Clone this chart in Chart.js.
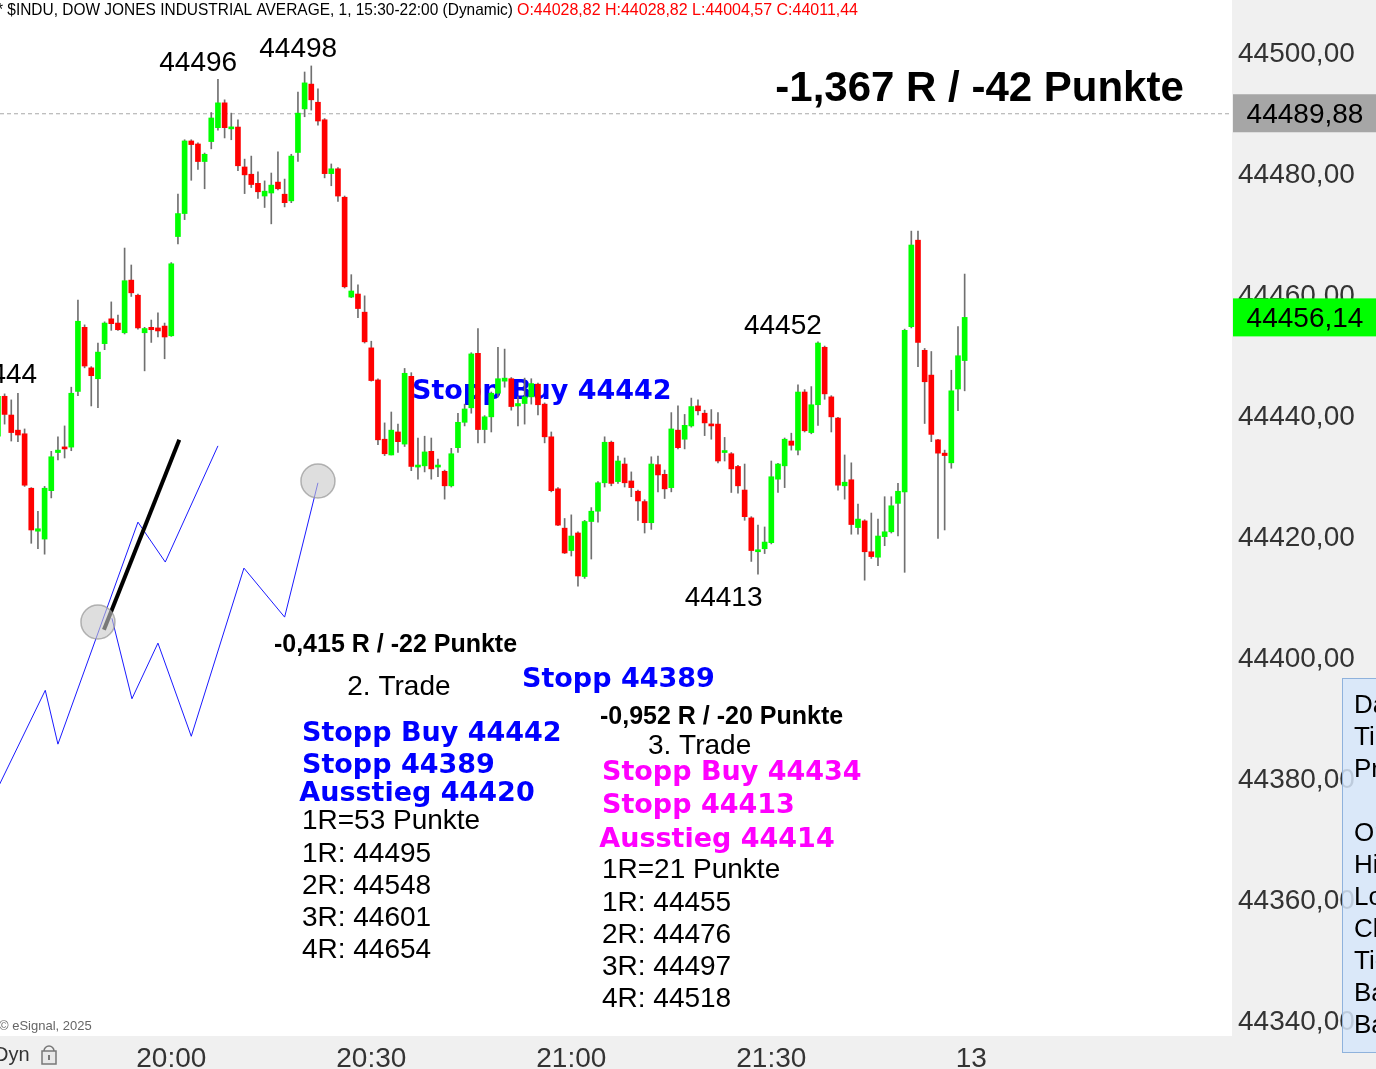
<!DOCTYPE html>
<html>
<head>
<meta charset="utf-8">
<script src="https://cdn.jsdelivr.net/npm/chart.js@4.4.1/dist/chart.umd.min.js"></script>
<style>
  html, body { margin: 0; padding: 0; background: #fff; overflow: hidden; }
  #wrap { width: 1376px; height: 1069px; }
</style>
</head>
<body>
<div id="wrap"><canvas id="chart" width="1376" height="1069"></canvas></div>
<script>
// 1-minute bars, first bar 19:34
const firstBar = "19:34";
const opens = [
  44436.5, 44443.1, 44440.0, 44437.5, 44436.9, 44427.9, 44420.8, 44419.5, 44427.5, 44433.8,
  44434.7, 44434.7, 44443.9, 44454.5, 44447.8, 44446.0, 44451.8, 44455.9, 44455.2, 44453.6,
  44462.3, 44459.8, 44453.6, 44454.5, 44454.4, 44454.7, 44453.1, 44469.5, 44473.3, 44485.3,
  44484.8, 44481.9, 44485.2, 44487.5, 44491.6, 44487.3, 44487.6, 44481.0, 44479.8, 44478.3,
  44476.2, 44476.7, 44478.5, 44476.5, 44475.4, 44483.4, 44490.6, 44494.7, 44491.7, 44488.8,
  44479.9, 44480.7, 44476.0, 44459.5, 44460.0, 44457.0, 44451.1, 44445.8, 44436.0, 44433.4,
  44437.2, 44435.2, 44446.4, 44431.4, 44431.6, 44434.0, 44431.4, 44430.7, 44428.3, 44434.6,
  44438.8, 44441.2, 44450.2, 44437.6, 44439.7, 44443.6, 44445.6, 44446.0, 44441.5, 44441.9,
  44443.0, 44445.1, 44441.8, 44436.4, 44427.8, 44421.3, 44417.6, 44420.5, 44413.3, 44422.4,
  44424.1, 44428.8, 44435.5, 44429.0, 44431.9, 44429.1, 44427.4, 44425.7, 44422.2, 44431.8,
  44430.2, 44428.0, 44437.5, 44436.0, 44438.2, 44441.5, 44440.3, 44438.5, 44438.5, 44433.8,
  44433.6, 44431.5, 44427.6, 44423.0, 44417.4, 44417.9, 44418.9, 44429.4, 44431.6, 44435.7,
  44434.2, 44443.8, 44437.1, 44441.7, 44451.2, 44443.0, 44439.5, 44428.3, 44429.3, 44421.4,
  44422.5, 44417.4, 44416.5, 44419.9, 44420.7, 44425.4, 44427.3, 44454.6, 44468.9, 44450.7,
  44446.6, 44435.9, 44433.7, 44432.1, 44444.3, 44449.0
];
const highs = [
  44443.5, 44443.5, 44442.5, 44443.6, 44437.7, 44428.0, 44424.1, 44428.2, 44434.0, 44436.4,
  44438.2, 44444.6, 44459.0, 44454.9, 44448.0, 44451.9, 44455.4, 44458.7, 44456.5, 44467.6,
  44464.8, 44460.0, 44454.5, 44455.7, 44456.9, 44455.2, 44465.2, 44476.5, 44485.5, 44485.5,
  44485.0, 44483.3, 44490.0, 44495.5, 44492.1, 44489.9, 44488.8, 44482.3, 44482.8, 44480.2,
  44478.7, 44480.0, 44483.5, 44479.0, 44483.1, 44493.4, 44496.7, 44497.7, 44493.9, 44489.0,
  44481.5, 44480.9, 44476.2, 44463.2, 44461.5, 44459.7, 44452.2, 44446.0, 44438.7, 44440.5,
  44438.5, 44447.7, 44447.0, 44436.2, 44436.5, 44436.2, 44432.7, 44430.9, 44434.5, 44440.3,
  44441.8, 44450.3, 44454.3, 44439.9, 44443.8, 44451.2, 44450.9, 44446.2, 44443.0, 44446.1,
  44446.0, 44445.3, 44442.0, 44437.2, 44428.0, 44422.9, 44423.5, 44420.7, 44422.6, 44424.7,
  44429.0, 44436.4, 44435.7, 44433.2, 44432.9, 44430.6, 44427.6, 44426.0, 44433.1, 44433.2,
  44430.9, 44440.4, 44441.5, 44440.1, 44442.8, 44442.5, 44440.8, 44440.9, 44440.4, 44436.3,
  44433.8, 44431.7, 44431.9, 44423.2, 44421.8, 44421.5, 44432.4, 44432.0, 44436.2, 44437.0,
  44445.0, 44444.2, 44444.7, 44452.1, 44451.4, 44443.2, 44439.6, 44433.4, 44432.1, 44425.3,
  44422.7, 44423.8, 44422.8, 44426.5, 44426.5, 44428.7, 44454.2, 44470.4, 44470.4, 44451.0,
  44450.5, 44436.0, 44434.2, 44447.4, 44454.6, 44463.3
];
const lows = [
  44436.0, 44438.5, 44435.7, 44435.6, 44428.2, 44418.8, 44417.9, 44417.0, 44426.3, 44432.6,
  44432.9, 44434.1, 44443.2, 44447.8, 44441.5, 44441.2, 44450.8, 44454.0, 44454.0, 44453.4,
  44459.6, 44454.2, 44447.3, 44452.0, 44452.9, 44449.3, 44453.0, 44468.3, 44472.3, 44478.8,
  44480.6, 44477.4, 44484.0, 44487.1, 44485.8, 44485.5, 44480.4, 44476.6, 44477.6, 44475.8,
  44474.3, 44471.6, 44477.2, 44474.4, 44475.1, 44481.9, 44489.3, 44490.4, 44487.9, 44479.2,
  44477.9, 44475.3, 44461.0, 44459.4, 44456.1, 44451.9, 44445.6, 44435.1, 44433.3, 44433.4,
  44433.8, 44434.8, 44430.8, 44429.4, 44430.6, 44429.4, 44429.8, 44426.1, 44428.1, 44433.8,
  44438.2, 44440.3, 44435.4, 44435.4, 44437.2, 44443.0, 44444.6, 44440.8, 44438.2, 44438.5,
  44441.8, 44440.0, 44435.4, 44427.3, 44421.7, 44417.1, 44416.7, 44411.7, 44413.0, 44416.2,
  44422.3, 44428.1, 44428.3, 44428.7, 44428.1, 44426.5, 44422.6, 44420.5, 44421.1, 44427.3,
  44426.2, 44427.3, 44434.4, 44434.4, 44438.0, 44440.0, 44436.6, 44436.0, 44432.1, 44432.4,
  44427.2, 44427.1, 44422.6, 44415.8, 44413.7, 44417.1, 44418.7, 44427.2, 44428.0, 44434.2,
  44433.4, 44437.2, 44436.9, 44438.3, 44442.6, 44437.2, 44427.6, 44426.1, 44420.3, 44420.3,
  44412.7, 44416.3, 44415.1, 44418.4, 44420.5, 44420.0, 44414.0, 44454.4, 44448.0, 44438.6,
  44435.6, 44419.6, 44421.0, 44431.2, 44440.7, 44444.0
];
const closes = [
  44443.1, 44440.1, 44437.1, 44436.7, 44428.4, 44421.0, 44421.2, 44427.9, 44433.1, 44434.2,
  44434.4, 44443.6, 44455.5, 44448.1, 44446.5, 44450.4, 44455.2, 44455.1, 44454.1, 44462.2,
  44460.2, 44454.4, 44454.3, 44454.1, 44453.9, 44452.9, 44465.0, 44473.3, 44485.3, 44484.7,
  44481.9, 44483.1, 44489.1, 44491.6, 44487.5, 44487.6, 44481.2, 44479.7, 44478.1, 44476.9,
  44477.0, 44478.0, 44477.4, 44475.1, 44482.8, 44489.9, 44494.9, 44492.1, 44488.6, 44479.9,
  44480.7, 44476.2, 44461.2, 44460.5, 44457.6, 44452.1, 44445.7, 44435.9, 44433.6, 44437.5,
  44435.6, 44446.9, 44431.5, 44431.6, 44433.9, 44431.1, 44431.6, 44428.3, 44433.6, 44438.8,
  44441.0, 44450.1, 44437.6, 44439.7, 44443.6, 44446.0, 44446.1, 44441.4, 44441.9, 44443.0,
  44445.2, 44441.7, 44436.4, 44427.5, 44421.8, 44417.2, 44420.0, 44413.4, 44422.4, 44424.1,
  44428.8, 44435.5, 44428.7, 44432.4, 44428.8, 44428.0, 44425.8, 44422.2, 44431.9, 44430.1,
  44427.8, 44437.7, 44434.6, 44438.3, 44441.4, 44440.7, 44438.7, 44438.2, 44432.4, 44434.0,
  44431.1, 44428.3, 44423.2, 44417.6, 44417.7, 44419.0, 44429.8, 44431.9, 44436.0, 44435.0,
  44443.8, 44437.4, 44441.7, 44451.9, 44443.5, 44439.7, 44428.4, 44428.9, 44421.9, 44422.8,
  44417.4, 44416.6, 44420.0, 44420.7, 44425.0, 44427.4, 44454.0, 44468.1, 44452.0, 44445.5,
  44436.8, 44433.7, 44433.3, 44444.0, 44449.8, 44456.14
];

// axis ticks
const xTickTimes = ["20:00", "20:30", "21:00", "21:30", "22:00"];
const xTickLabels = ["20:00", "20:30", "21:00", "21:30", "13"];
const yTickValues = [44340, 44360, 44380, 44400, 44420, 44440, 44460, 44480, 44500];

// price markers on the right axis
const lastPrice = 44456.14;
const refPrice = 44489.88;

// drawn lines (time, price)
const zigzagATimes = ["19:33.6", "19:41.1", "19:43.0", "19:55.0", "19:59.1", "20:07.0"];
const zigzagAPrices = [44377.5, 44394.5, 44385.6, 44422.3, 44415.7, 44434.9];
const zigzagBTimes = ["19:51.1", "19:54.1", "19:58.0", "20:03.0", "20:10.9", "20:17.0", "20:22.0"];
const zigzagBPrices = [44406.4, 44393.1, 44402.3, 44386.9, 44414.7, 44406.6, 44428.8];
const trendTimes = ["19:49.9", "20:01.2"];
const trendPrices = [44404.5, 44435.9];
const markerTimes = ["19:49.0", "20:22.0"];
const markerPrices = [44405.8, 44429.1];

// text notes (left edge time, centre price)
const noteTexts = [
  "44496", "44498", "44444", "44452", "44413",
  "-1,367 R / -42 Punkte", "Stopp Buy 44442",
  "-0,415 R / -22 Punkte", "2. Trade", "Stopp 44389",
  "Stopp Buy 44442", "Stopp 44389", "Ausstieg 44420", "1R=53 Punkte",
  "1R: 44495", "2R: 44548", "3R: 44601", "4R: 44654",
  "-0,952 R / -20 Punkte", "3. Trade",
  "Stopp Buy 44434", "Stopp 44413", "Ausstieg 44414", "1R=21 Punkte",
  "1R: 44455", "2R: 44476", "3R: 44497", "4R: 44518"
];
const noteTimes = [
  "19:58.2", "20:13.2", "19:28.2", "21:25.9", "21:17.0",
  "21:30.6", "20:36.1",
  "20:15.4", "20:26.4", "20:52.6",
  "20:19.6", "20:19.6", "20:19.2", "20:19.6",
  "20:19.6", "20:19.6", "20:19.6", "20:19.6",
  "21:04.3", "21:11.5",
  "21:04.6", "21:04.6", "21:04.2", "21:04.6",
  "21:04.6", "21:04.6", "21:04.6", "21:04.6"
];
const notePrices = [
  44498.5, 44500.8, 44446.9, 44455.0, 44410.1,
  44494.2, 44444.1,
  44402.3, 44395.4, 44396.5,
  44387.6, 44382.3, 44377.7, 44373.1,
  44367.8, 44362.5, 44357.2, 44351.9,
  44390.4, 44385.5,
  44381.2, 44375.7, 44370.1, 44365.0,
  44359.7, 44354.4, 44349.1, 44343.8
];
const noteKinds = [
  "num", "num", "num", "num", "num",
  "big", "blue",
  "bold", "plain", "blue",
  "blue", "blue", "blue", "plain",
  "plain", "plain", "plain", "plain",
  "bold", "plain",
  "pink", "pink", "pink", "plain",
  "plain", "plain", "plain", "plain"
];

const infoRows = ["Date:", "Time:", "Price:", "", "Open:", "High:", "Low:", "Close:", "Ticks:", "Bar:", "Bar:"];

function toMin(t) {
  const [h, m] = t.split(":");
  return parseInt(h) * 60 + parseFloat(m);
}

const start = toMin(firstBar);
const barTimes = opens.map((_, i) => start + i);
const bodies = barTimes.map((t, i) => ({ x: t, y: [opens[i], closes[i]] }));
const wicks = barTimes.map((t, i) => ({ x: t, y: [lows[i], highs[i]] }));
const bodyColors = opens.map((o, i) => closes[i] >= o ? "#00ff00" : "#ff0000");

const styles = {
  num:   { font: '28px "Liberation Sans"', color: "#000" },
  plain: { font: '28px "Liberation Sans"', color: "#000" },
  big:   { font: 'bold 42px "Liberation Sans"', color: "#000" },
  bold:  { font: 'bold 25px "Liberation Sans"', color: "#000" },
  blue:  { font: 'bold 27px "DejaVu Sans"', color: "#0000ff" },
  pink:  { font: 'bold 27px "DejaVu Sans"', color: "#ff00ff" }
};

const PLOT_W = 1232;
const AXIS_H = 33;

const background = {
  id: "background",
  beforeDraw(chart) {
    const ctx = chart.ctx;
    ctx.save();
    ctx.fillStyle = "#ffffff";
    ctx.fillRect(0, 0, chart.width, chart.height);
    ctx.fillStyle = "#f0f0f0";
    ctx.fillRect(chart.chartArea.right, 0, chart.width - chart.chartArea.right, chart.height);
    ctx.fillRect(0, chart.chartArea.bottom, chart.width, chart.height - chart.chartArea.bottom);
    ctx.restore();
  }
};

const drawings = {
  id: "drawings",
  beforeDatasetsDraw(chart) {
    const ctx = chart.ctx;
    const xs = chart.scales.x, ys = chart.scales.y;
    const area = chart.chartArea;
    ctx.save();
    ctx.beginPath();
    ctx.rect(area.left, area.top, area.right - area.left, area.bottom - area.top);
    ctx.clip();

    // reference price dashed line
    const ry = ys.getPixelForValue(refPrice);
    ctx.strokeStyle = "#a8a8a8";
    ctx.lineWidth = 1;
    ctx.setLineDash([4, 3]);
    ctx.beginPath();
    ctx.moveTo(area.left, ry + 0.5);
    ctx.lineTo(area.right, ry + 0.5);
    ctx.stroke();
    ctx.setLineDash([]);

    // blue zigzags
    const poly = (times, prices) => {
      ctx.beginPath();
      times.forEach((t, i) => {
        const px = xs.getPixelForValue(toMin(t));
        const py = ys.getPixelForValue(prices[i]);
        if (i === 0) ctx.moveTo(px, py); else ctx.lineTo(px, py);
      });
      ctx.stroke();
    };
    ctx.strokeStyle = "#1a1aff";
    ctx.lineWidth = 1;
    poly(zigzagATimes, zigzagAPrices);
    poly(zigzagBTimes, zigzagBPrices);

    // black trend line
    ctx.strokeStyle = "#000";
    ctx.lineWidth = 4;
    poly(trendTimes, trendPrices);

    // grey markers
    markerTimes.forEach((t, i) => {
      ctx.beginPath();
      ctx.arc(xs.getPixelForValue(toMin(t)), ys.getPixelForValue(markerPrices[i]), 17, 0, Math.PI * 2);
      ctx.fillStyle = "rgba(200,200,200,0.6)";
      ctx.fill();
      ctx.strokeStyle = "rgba(150,150,150,0.7)";
      ctx.lineWidth = 1.5;
      ctx.stroke();
    });

    // notes
    ctx.textBaseline = "middle";
    ctx.textAlign = "left";
    noteTexts.forEach((txt, i) => {
      const st = styles[noteKinds[i]];
      ctx.font = st.font;
      ctx.fillStyle = st.color;
      ctx.fillText(txt, xs.getPixelForValue(toMin(noteTimes[i])), ys.getPixelForValue(notePrices[i]) + 2);
    });
    ctx.restore();
  },
  afterDraw(chart) {
    const ctx = chart.ctx;
    const ys = chart.scales.y;
    const area = chart.chartArea;
    ctx.save();

    // price boxes on the axis
    const box = (price, fill) => {
      const py = ys.getPixelForValue(price);
      ctx.fillStyle = fill;
      ctx.fillRect(area.right + 1, py - 19, chart.width - area.right, 38);
      ctx.fillStyle = "#000";
      ctx.font = '28px "Liberation Sans"';
      ctx.textAlign = "center";
      ctx.textBaseline = "middle";
      ctx.fillText(price.toFixed(2).replace(".", ","), area.right + 73, py + 2);
    };
    box(refPrice, "#a6a6a6");
    box(lastPrice, "#00ff00");

    // title line
    ctx.textAlign = "left";
    ctx.textBaseline = "middle";
    ctx.font = '17px "Liberation Sans"';
    const fit = (txt, x, y, w, color) => {
      const nat = ctx.measureText(txt).width;
      ctx.save();
      ctx.translate(x, y);
      ctx.scale(w / nat, 1);
      ctx.fillStyle = color;
      ctx.fillText(txt, 0, 0);
      ctx.restore();
    };
    fit("* $INDU, DOW JONES INDUSTRIAL AVERAGE, 1, 15:30-22:00 (Dynamic)", -3, 10, 516, "#000");
    fit("O:44028,82 H:44028,82 L:44004,57 C:44011,44", 517, 10, 341, "#ff0000");

    // copyright + bottom-left status
    ctx.font = '13px "Liberation Sans"';
    ctx.fillStyle = "#666";
    ctx.fillText("\u00a9 eSignal, 2025", -1, 1026);
    ctx.font = '20px "Liberation Sans"';
    ctx.fillStyle = "#333";
    ctx.fillText("Dyn", -6, 1055);
    ctx.strokeStyle = "#777";
    ctx.fillStyle = "#e8e8e8";
    ctx.lineWidth = 1.5;
    ctx.beginPath();
    ctx.arc(49, 1051, 5, Math.PI, 0);
    ctx.stroke();
    ctx.fillRect(42, 1051, 14, 13);
    ctx.strokeRect(42, 1051, 14, 13);
    ctx.fillStyle = "#777";
    ctx.fillRect(48, 1055, 2, 5);

    // data window at the right edge
    ctx.fillStyle = "rgba(214,230,250,0.85)";
    ctx.fillRect(1342, 678, 40, 374);
    ctx.strokeStyle = "#8fb2dc";
    ctx.lineWidth = 1;
    ctx.strokeRect(1342.5, 678.5, 40, 374);
    ctx.font = '26px "Liberation Sans"';
    ctx.fillStyle = "#000";
    infoRows.forEach((r, i) => ctx.fillText(r, 1354, 706 + i * 32));
    ctx.restore();
  }
};

new Chart(document.getElementById("chart"), {
  type: "bar",
  data: {
    datasets: [
      {
        data: bodies,
        backgroundColor: bodyColors,
        borderWidth: 0,
        barThickness: 5,
        minBarLength: 2,
        grouped: false
      },
      {
        data: wicks,
        backgroundColor: "#707070",
        borderWidth: 0,
        barThickness: 1,
        grouped: false
      }
    ]
  },
  options: {
    responsive: false,
    devicePixelRatio: 1,
    animation: false,
    layout: { padding: 0 },
    plugins: { legend: { display: false }, tooltip: { enabled: false } },
    scales: {
      x: {
        type: "linear",
        offset: false,
        min: 1174.31,
        max: 1359.1,
        grid: { display: false, drawTicks: false },
        border: { display: false },
        afterBuildTicks: (scale) => {
          scale.ticks = xTickTimes.map(t => ({ value: toMin(t) }));
        },
        afterFit: (scale) => {
          scale.height = AXIS_H;
          scale.paddingLeft = 0;
          scale.paddingRight = 0;
        },
        ticks: {
          autoSkip: false,
          maxRotation: 0,
          padding: 6,
          color: "#333",
          font: { family: "Liberation Sans", size: 28 },
          callback: (v) => {
            const i = xTickTimes.findIndex(t => toMin(t) === v);
            return i >= 0 ? xTickLabels[i] : "";
          }
        }
      },
      y: {
        position: "right",
        min: 44337.36,
        max: 44508.6,
        grid: { display: false, drawTicks: false },
        border: { display: false },
        afterBuildTicks: (scale) => {
          scale.ticks = yTickValues.map(v => ({ value: v }));
        },
        afterFit: (scale) => {
          scale.width = 1376 - PLOT_W;
          scale.paddingTop = 0;
          scale.paddingBottom = 0;
        },
        ticks: {
          padding: 6,
          labelOffset: 2,
          color: "#333",
          font: { family: "Liberation Sans", size: 28 },
          callback: (v) => v.toFixed(2).replace(".", ",")
        }
      }
    }
  },
  plugins: [background, drawings]
});
</script>
</body>
</html>
